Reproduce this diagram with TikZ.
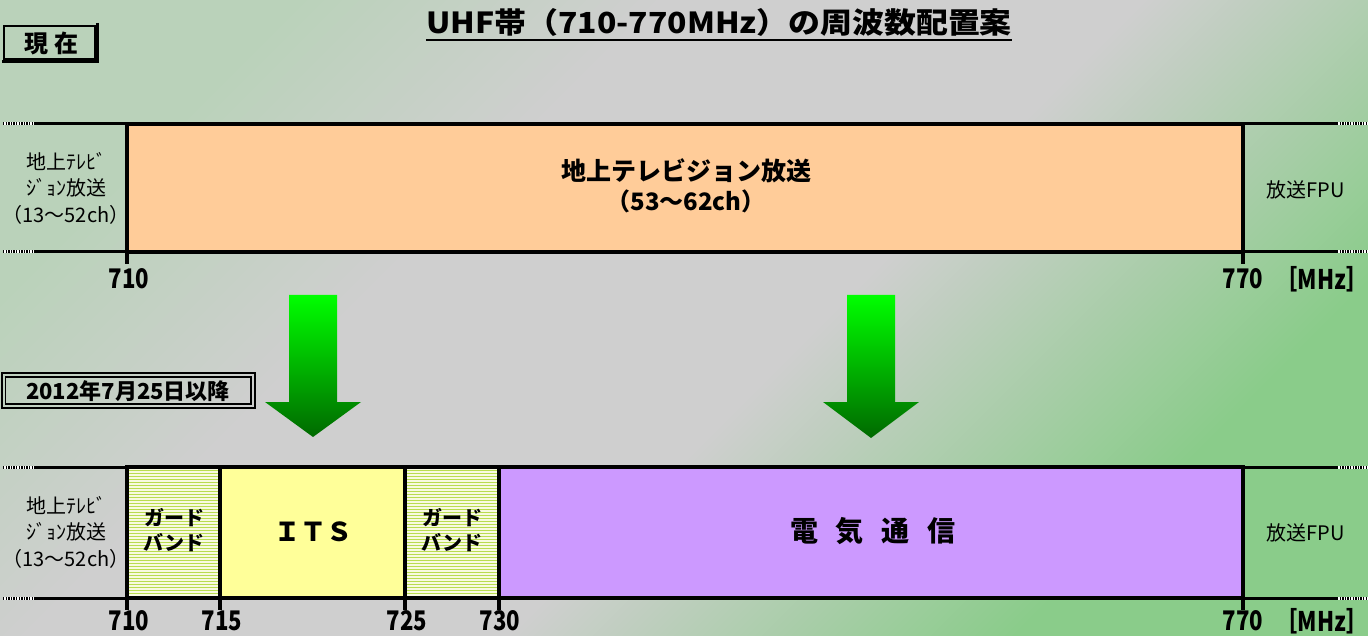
\documentclass[tikz,border=0pt]{standalone}
\usepackage{fontspec}
\newfontfamily\jp{Noto Sans CJK JP}
\newfontfamily\jpc{Noto Sans CJK JP}[FakeStretch=0.82]
\newfontfamily\jpw{Noto Sans CJK JP}[FakeStretch=1.1]
\definecolor{bgA}{RGB}{186,210,186}
\definecolor{bgB}{RGB}{207,207,207}
\definecolor{bgC}{RGB}{138,204,138}
\definecolor{peach}{RGB}{255,204,153}
\definecolor{itsY}{RGB}{255,255,153}
\definecolor{lilac}{RGB}{204,153,255}
\definecolor{hatchG}{RGB}{185,220,80}
\definecolor{hatchBg}{RGB}{248,250,225}
\definecolor{grnA}{RGB}{0,255,0}
\definecolor{grnB}{RGB}{0,105,0}
\pgfdeclareverticalshading{bgshade}{100bp}{color(0bp)=(bgC); color(27bp)=(bgC); color(45bp)=(bgB); color(62bp)=(bgB); color(75bp)=(bgA); color(100bp)=(bgA)}
\begin{document}
\begin{tikzpicture}[x=1pt,y=-1pt,
  band/.style={line width=4pt},
  outer/.style={line width=3pt},
  dots/.style={line width=3pt,dash pattern=on 1.3pt off 1.3pt},
  hatch/.style={hatchG,line width=1pt},
  lbl/.style={font=\jp\fontsize{20}{26.5}\selectfont,align=center,inner sep=0},
  num/.style={font=\jpc\bfseries\fontsize{27}{30}\selectfont,inner sep=0},
  gbtxt/.style={font=\jp\bfseries\fontsize{20}{25}\selectfont,align=center,inner sep=0}]
\useasboundingbox (0,0) rectangle (1368,636);
\shade[shading=bgshade, shading angle=45] (0,0) rectangle (1368,636);

% title
\node[font=\jpw\bfseries\fontsize{29}{30}\selectfont, inner sep=0] (title) at (719,22) {UHF帯（710-770MHz）の周波数配置案};
\draw[line width=2pt] (title.west |- 0,40) -- (title.east |- 0,40);

% "現在" label
\draw[line width=2pt] (4,26) rectangle (95,59);
\draw[line width=3pt] (97,23) -- (97,62) -- (2,62);
\node[font=\jp\bfseries\fontsize{24}{26}\selectfont, inner sep=0] (now) at (51,43) {現\hspace{6pt}在};

% upper band outer lines
\foreach \yy in {124,252}{
  \draw[white,outer] (3,\yy) -- (34,\yy);
  \draw[dots] (3,\yy) -- (34,\yy);
  \draw[outer] (34,\yy) -- (127,\yy);
  \draw[outer] (1243,\yy) -- (1337,\yy);
  \draw[white,outer] (1337,\yy) -- (1368,\yy);
  \draw[dots] (1337,\yy) -- (1368,\yy);
}
\draw[band, fill=peach] (127,124) rectangle (1243,252);
\draw[band] (127,252) -- (127,264);
\draw[band] (1243,252) -- (1243,264);
\node[font=\jp\bfseries\fontsize{25}{30}\selectfont, inner sep=0] (tv) at (686,171) {地上テレビジョン放送};
\node[font=\jp\bfseries\fontsize{24}{26}\selectfont, inner sep=0] (tvch) at (686,201) {（53〜62ch）};
\node[lbl] (ltv) at (66,188) {地上ﾃﾚﾋﾞ\\ｼﾞｮﾝ放送\\（13〜52ch）};
\node[lbl, font=\jp\fontsize{20}{24}\selectfont] (fpu) at (1306,190) {放送FPU};
\node[num] (n710a) at (129,279) {710};
\node[num] (n770a) at (1243,279) {770};
\node[num] (mhza) at (1322,279) {［MHz］};

% arrows
\shade[top color=grnA, bottom color=grnB] (289,295) -- (337,295) -- (337,402) -- (361,402) -- (313,437) -- (265,402) -- (289,402) -- cycle;
\shade[top color=grnA, bottom color=grnB] (847,295) -- (895,295) -- (895,402) -- (919,402) -- (871,438) -- (823,402) -- (847,402) -- cycle;

% "2012年7月25日以降" label
\draw[line width=2.5pt] (2,373) rectangle (255,408);
\draw[line width=1.5pt] (5.5,377) rectangle (251,404);
\node[font=\jp\bfseries\fontsize{22}{26}\selectfont, inner sep=0] (date) at (128,391) {2012年7月25日以降};

% lower band outer lines
\foreach \yy in {467,598}{
  \draw[white,outer] (3,\yy) -- (34,\yy);
  \draw[dots] (3,\yy) -- (34,\yy);
  \draw[outer] (34,\yy) -- (127,\yy);
  \draw[outer] (1243,\yy) -- (1337,\yy);
  \draw[white,outer] (1337,\yy) -- (1368,\yy);
  \draw[dots] (1337,\yy) -- (1368,\yy);
}
\fill[hatchBg] (127,467) rectangle (220,598);
\fill[hatchBg] (405,467) rectangle (499,598);
\foreach \yy in {470,473,...,596}{
  \draw[hatch] (127,\yy) -- (220,\yy);
  \draw[hatch] (405,\yy) -- (499,\yy);
}
\fill[itsY] (220,467) rectangle (405,598);
\fill[lilac] (499,467) rectangle (1243,598);
\draw[band] (127,467) rectangle (1243,598);
\foreach \xx in {220,405,499}{ \draw[band] (\xx,467) -- (\xx,598); }
\foreach \xx in {127,220,405,499,1243}{ \draw[band] (\xx,598) -- (\xx,610); }

\node[gbtxt] (gb1) at (174,530) {ガード\\バンド};
\node[gbtxt] (gb2) at (452,530) {ガード\\バンド};
\node[font=\jp\bfseries\fontsize{26}{30}\selectfont, inner sep=0] (its) at (313,532) {ＩＴＳ};
\node[font=\jp\bfseries\fontsize{28}{30}\selectfont, inner sep=0] (tel) at (873,531) {電\hspace{18pt}気\hspace{18pt}通\hspace{18pt}信};
\node[lbl] (ltv2) at (66,532) {地上ﾃﾚﾋﾞ\\ｼﾞｮﾝ放送\\（13〜52ch）};
\node[lbl, font=\jp\fontsize{20}{24}\selectfont] (fpu2) at (1306,533) {放送FPU};

\node[num] (n710) at (129,621) {710};
\node[num] (n715) at (222,621) {715};
\node[num] (n725) at (407,621) {725};
\node[num] (n730) at (500,621) {730};
\node[num] (n770) at (1243,621) {770};
\node[num] (mhz) at (1322,621) {［MHz］};
\end{tikzpicture}
\end{document}
